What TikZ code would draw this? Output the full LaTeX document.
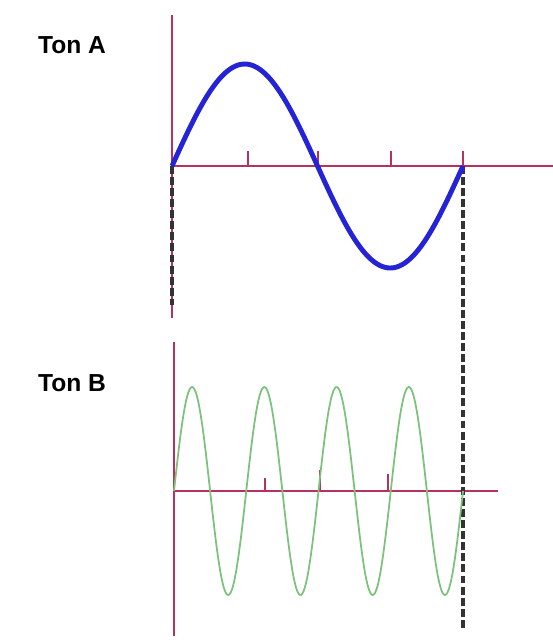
\documentclass[tikz,border=0pt]{standalone}
\usepackage{fontspec}
\setmainfont{Liberation Sans}
\usepackage{xcolor}
\usetikzlibrary{positioning}
\definecolor{axisred}{HTML}{B8305E}
\definecolor{waveblue}{HTML}{2424D6}
\definecolor{wavegreen}{HTML}{7CC27C}

\begin{document}
\begin{tikzpicture}[x=0.02cm, y=-0.02cm,
    axis/.style={draw=axisred, line width=1.5pt},
    tick/.style={draw=axisred, line width=1.5pt},
    waveA/.style={draw=waveblue, line width=2.8pt},
    waveB/.style={draw=wavegreen, line width=1pt},
    guide/.style={draw=black!80, line width=2.2pt, dash pattern=on 4.5pt off 1.8pt},
    ton/.style={font=\fontsize{14}{16}\selectfont\bfseries, inner sep=0pt}
]
    \useasboundingbox (0,0) rectangle (553,640);

    % === labels ===
    \node[ton] (tonA) at (72,45) {Ton A};
    \node[ton] (tonB) at (72,383) {Ton B};

    % === Ton A axes ===
    \coordinate (a0) at (172,166);
    \coordinate (atop) at (172,15);
    \coordinate (abot) at (172,318);
    \coordinate (aend) at (553,166);
    \draw[axis] (atop) -- (abot);
    \draw[axis] (a0) -- (aend);
    \foreach \t in {248,318,391,463}
        \draw[tick] (\t,151) -- (\t,166);

    % === Ton B axes ===
    \coordinate (b0) at (174,491);
    \coordinate (btop) at (174,342);
    \coordinate (bbot) at (174,636);
    \coordinate (bend) at (498,491);
    \draw[axis] (btop) -- (bbot);
    \draw[axis] (b0) -- (bend);
    \draw[tick] (265,478) -- (265,491);
    \draw[tick] (320,470) -- (320,491);
    \draw[tick] (388,474) -- (388,491);

    % --- guide lines ---
    \coordinate (gA) at (463,166);
    \coordinate (gB) at (463,630);
    \coordinate (gL) at (172,305);
    \draw[guide] (a0) -- (gL);
    \draw[guide] (gA) -- (gB);

    % --- waves ---
    \draw[waveA] plot[domain=0:291, samples=120, smooth] ({172+\x}, {166-102*sin(\x/291*360)});
    \draw[waveB] plot[domain=0:289, samples=240, smooth] ({174+\x}, {491-104*sin(\x/289*1440)});
\end{tikzpicture}
\end{document}
